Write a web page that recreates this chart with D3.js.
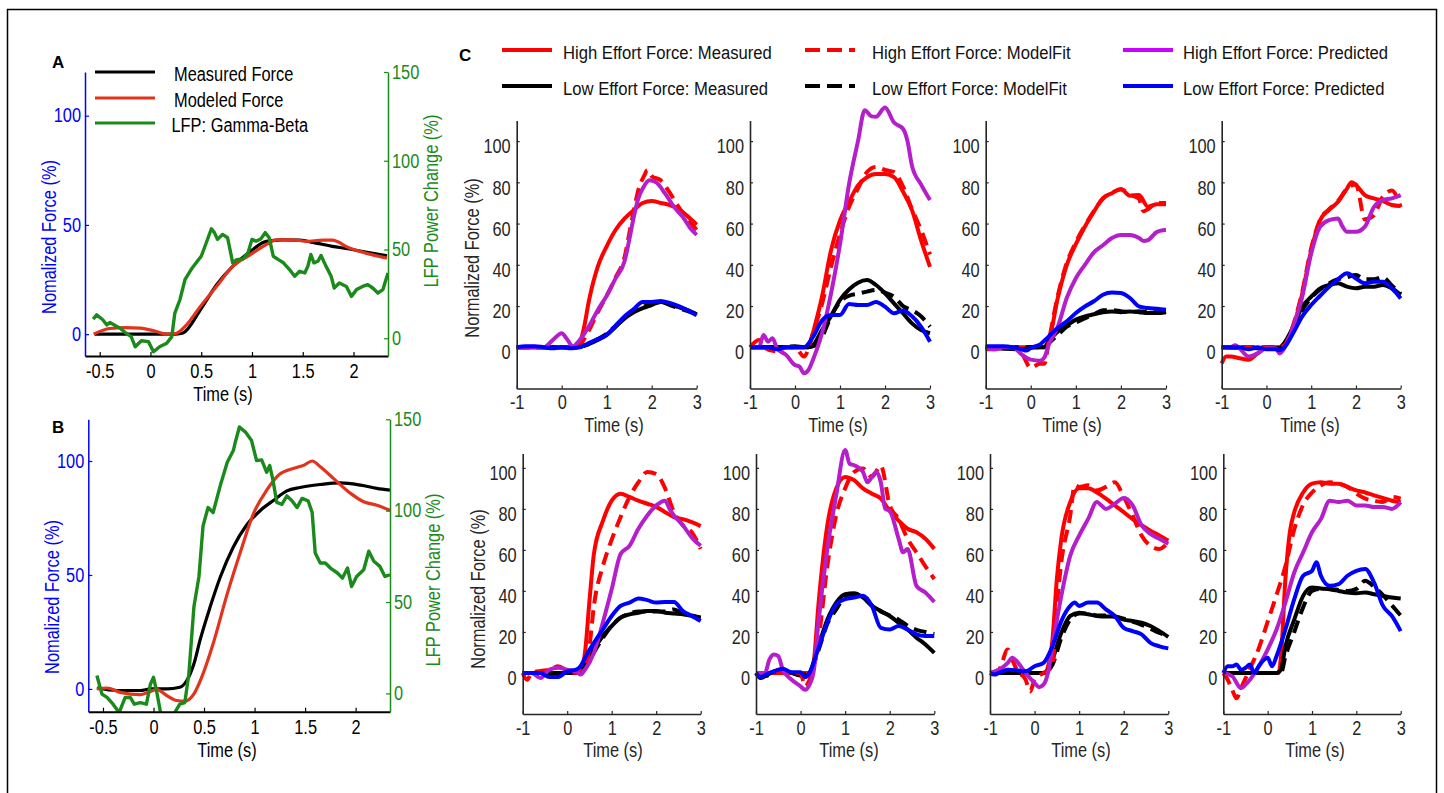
<!DOCTYPE html>
<html>
<head>
<meta charset="utf-8">
<script src="https://cdn.jsdelivr.net/npm/d3@7"></script>
<style>
  body { margin: 0; background: #fff; }
  svg { display: block; }
  text { font-family: "Liberation Sans", Arial, Helvetica, sans-serif; }
  .letter { font-weight: bold; }
</style>
</head>
<body>
<svg id="fig" width="1444" height="793"></svg>
<script>
// ---------------- Panels A and B: force (left axis) and LFP power (right axis) ----------------
const abTimeTicks = [-0.5, 0, 0.5, 1, 1.5, 2];
const abForceTicks = [0, 50, 100];
const abLfpTicks = [0, 50, 100, 150];
const abLegendLabels = ["Measured Force", "Modeled Force", "LFP: Gamma-Beta"];

const aMeasured = [[-0.55,0],[0,0],[0.25,0],[0.32,0.5],[0.49,11],[0.65,22.5],[0.81,31],[0.98,37.7],[1.14,42.5],[1.3,43.2],[1.47,43],[1.63,41.7],[1.79,40.2],[1.96,39],[2.12,37.6],[2.33,35.9]];
const aModeled = [[-0.56,0],[-0.4,2.6],[-0.25,3],[-0.1,2.8],[0.06,1.2],[0.16,0],[0.25,0.3],[0.35,4],[0.49,12.6],[0.65,21.8],[0.81,31],[0.98,36.3],[1.14,41],[1.24,43.2],[1.4,43.2],[1.53,42.5],[1.7,43],[1.79,43],[1.96,39.4],[2.12,37.1],[2.33,34.8]];
const aLfp = [[-0.565,10.8],[-0.53,13.2],[-0.47,10.4],[-0.43,7.5],[-0.4,8.9],[-0.3,5.7],[-0.24,2.8],[-0.19,0.9],[-0.15,-4.8],[-0.09,-1.4],[-0.02,-1.9],[0.03,-7.6],[0.09,-4.8],[0.16,-2.8],[0.21,0.9],[0.24,14.2],[0.29,21.7],[0.34,33],[0.4,38.7],[0.45,42.5],[0.5,46.2],[0.55,53.8],[0.6,61.7],[0.63,59.5],[0.66,55.7],[0.71,58.5],[0.76,56.6],[0.81,42.5],[0.85,44.3],[0.91,44.7],[0.96,48.1],[1.0,55.7],[1.04,54.7],[1.09,56.1],[1.13,59.5],[1.17,56.6],[1.21,46.2],[1.26,44.3],[1.31,42.5],[1.37,38.7],[1.42,34.9],[1.47,37.7],[1.52,36.8],[1.55,40.5],[1.58,47.2],[1.61,42.5],[1.65,43.4],[1.68,46.6],[1.73,40.5],[1.78,34.9],[1.81,28.3],[1.86,31.1],[1.93,29.2],[1.98,23.6],[2.03,27.4],[2.09,29.2],[2.14,30.2],[2.19,28.3],[2.24,25.5],[2.29,27.4],[2.34,36.8]];

const bMeasured = [[-0.56,0.4],[-0.36,-0.7],[-0.13,-0.7],[-0.03,0],[0.13,0],[0.26,0.7],[0.33,3.7],[0.4,11],[0.46,21.3],[0.56,35.9],[0.66,49],[0.79,62.3],[0.92,71.8],[1.06,78.4],[1.19,82.8],[1.32,86.9],[1.45,88.4],[1.65,89.7],[1.85,90.4],[2.05,89.4],[2.21,88],[2.34,87.2]];
const bModeled = [[-0.56,0],[-0.46,0.4],[-0.33,-1.5],[-0.13,-2.5],[-0.05,-1.5],[0.03,-0.2],[0.13,-2.9],[0.23,-5.1],[0.31,-5.4],[0.4,-2.2],[0.49,6.6],[0.59,19.8],[0.73,41.8],[0.86,60.1],[0.99,77],[1.12,87.2],[1.25,94.3],[1.39,96.8],[1.49,98.2],[1.57,100],[1.65,97.5],[1.78,92.4],[1.95,85.8],[2.08,82.1],[2.21,80.6],[2.34,78.4]];
const bLfp = [[-0.56,9.8],[-0.51,-0.4],[-0.46,-2.2],[-0.4,-5.9],[-0.34,-10.5],[-0.28,-2.2],[-0.23,-2.2],[-0.19,-5.9],[-0.13,-5],[-0.07,-5.9],[-0.03,5.2],[0,8.8],[0.03,1.5],[0.07,-10.5],[0.12,-20],[0.17,-20],[0.21,-10.5],[0.26,-5.9],[0.31,-5],[0.35,10.7],[0.4,47.4],[0.45,64],[0.49,91.6],[0.54,101.7],[0.59,99],[0.66,113.6],[0.73,126.5],[0.79,132.9],[0.81,137.6],[0.85,145.8],[0.91,143],[0.97,138.4],[1.02,127.4],[1.07,127.8],[1.12,121],[1.15,124.7],[1.18,117.3],[1.22,104.5],[1.27,103.5],[1.32,108.1],[1.37,105.4],[1.42,101.7],[1.47,106.7],[1.53,105.4],[1.57,99],[1.6,76.9],[1.65,71.4],[1.7,71.4],[1.75,68.6],[1.82,65.9],[1.87,63.1],[1.92,68.6],[1.96,58.5],[2.01,64],[2.08,67.7],[2.13,77.8],[2.18,72.3],[2.24,69.5],[2.29,64],[2.34,64.9]];

// ---------------- Panel C: eight force panels ----------------
const cTimeTicks = [-1, 0, 1, 2, 3];
const cForceTicks = [0, 20, 40, 60, 80, 100];
const cLegendLabels = [
  ["High Effort Force: Measured", "Low Effort Force: Measured"],
  ["High Effort Force: ModelFit", "Low Effort Force: ModelFit"],
  ["High Effort Force: Predicted", "Low Effort Force: Predicted"]
];

const c1HiMeas = [[-1,0],[0.3,0],[0.4,2],[0.5,10],[0.6,22],[0.8,39],[1.0,49],[1.2,57],[1.4,62.5],[1.6,66.5],[1.8,70],[2.0,71],[2.2,70],[2.4,69],[2.6,67],[2.8,63.5],[3.0,59.5]];
const c1HiFit = [[-1,0],[0.3,0],[0.4,1],[0.6,8],[0.8,17],[1.0,25],[1.2,34],[1.4,44],[1.5,55],[1.6,66],[1.7,76],[1.85,84],[1.9,86],[2.0,83],[2.2,81],[2.4,75],[2.6,68],[2.8,62],[3.0,57]];
const c1HiPred = [[-1,0],[-0.6,0],[-0.4,0],[-0.2,3.5],[0,6.8],[0.1,4.5],[0.25,0.5],[0.4,3.5],[0.6,10],[0.8,18],[1.0,25],[1.2,33.5],[1.4,42],[1.5,52],[1.6,63],[1.7,72],[1.8,77],[1.95,81],[2.1,80],[2.3,74.5],[2.5,68],[2.7,63],[2.85,58],[3.0,54.5]];
const c1LoMeas = [[-1,0],[0.3,0],[0.6,1.5],[0.8,3.5],[1.0,6],[1.2,10],[1.4,14],[1.6,17],[1.8,19],[2.0,20.5],[2.2,22],[2.4,21],[2.6,19.5],[2.8,18],[3.0,16]];
const c1LoFit = [[-1,0],[0.3,0],[0.6,1.5],[0.8,4],[1.0,6.5],[1.2,10.5],[1.4,14.5],[1.6,17.5],[1.8,19.5],[2.0,21],[2.2,22],[2.4,20.5],[2.6,19],[2.8,17.5],[3.0,16]];
const c1LoPred = [[-1,0],[-0.8,0.5],[-0.6,0.5],[-0.4,0],[-0.2,-0.5],[0,0],[0.2,-0.5],[0.4,0],[0.6,2],[0.8,4],[1.0,6],[1.2,10.5],[1.4,15],[1.6,18.5],[1.8,22],[2.0,22],[2.2,22.5],[2.4,21.5],[2.6,20],[2.8,18],[3.0,15.5]];

const c2HiMeas = [[-1,0],[0.3,0],[0.35,3],[0.4,7],[0.6,24.5],[0.8,47],[1.0,61.5],[1.2,70.5],[1.4,78.5],[1.6,82.5],[1.8,84],[2.0,84],[2.2,82.5],[2.4,75.5],[2.6,66.5],[2.8,52],[3.0,39]];
const c2HiFit = [[-1,0],[-0.8,3.5],[-0.7,0],[-0.4,-2],[-0.2,0],[0,0],[0.2,-4.5],[0.4,7],[0.6,21],[0.8,39],[1.0,55],[1.2,68],[1.4,77],[1.6,85],[1.8,87.5],[2.0,86],[2.2,85],[2.4,78],[2.6,67],[2.8,57],[3.0,45]];
const c2HiPred = [[-1,0],[-0.8,0],[-0.7,6],[-0.6,2.7],[-0.5,4.4],[-0.4,-0.5],[-0.2,-3.7],[0,-8.6],[0.1,-9.4],[0.2,-12.6],[0.3,-11],[0.4,-6],[0.6,6.8],[0.8,26],[1.0,50],[1.2,79],[1.4,100],[1.55,115],[1.7,112],[1.8,111.8],[2.0,116.3],[2.2,109],[2.4,106],[2.5,100],[2.6,88],[2.8,79],[3.0,71.4]];
const c2LoMeas = [[-1,0],[0.3,0],[0.4,1],[0.6,8.4],[0.8,15],[1.0,23],[1.2,28],[1.4,31.3],[1.6,32.6],[1.8,30.2],[2.0,26.2],[2.2,21.3],[2.4,16.5],[2.6,11.6],[2.8,8.4],[3.0,6.8]];
const c2LoFit = [[-1,0],[-0.4,0],[0,0.5],[0.2,0],[0.4,0.5],[0.6,5],[0.8,15],[1.0,22],[1.2,25],[1.4,26],[1.6,27],[1.8,27.8],[2.0,26.5],[2.2,24.5],[2.4,20],[2.6,18],[2.8,15],[3.0,10]];
const c2LoPred = [[-1,0],[-0.6,0],[-0.4,-1],[-0.2,0],[0,0],[0.2,0],[0.4,5],[0.6,13],[0.8,15.7],[1.0,15.7],[1.2,21],[1.4,20.5],[1.6,20.5],[1.8,22],[2.0,19.7],[2.2,16.5],[2.4,17.8],[2.6,15],[2.8,10],[3.0,2.7]];

const c3HiMeas = [[-1,0],[0.3,0],[0.4,3],[0.6,24],[0.8,40],[1.0,50],[1.2,58.5],[1.4,65.8],[1.6,72.3],[1.8,74.7],[2.0,76.8],[2.2,73.5],[2.4,73.9],[2.6,68.2],[2.8,69.4],[3.0,69.4]];
const c3HiFit = [[-1,-1],[-0.8,-1],[-0.6,0],[-0.4,0],[-0.2,-3],[0,-10],[0.2,-8],[0.3,-8],[0.4,3],[0.6,25],[0.8,41],[1.0,51],[1.2,59],[1.4,66],[1.6,72],[1.8,75],[2.0,76.5],[2.2,74],[2.4,72],[2.5,66],[2.6,67],[2.8,70],[3.0,70]];
const c3HiPred = [[-1,0],[-0.8,-1],[-0.6,0],[-0.4,0],[-0.2,-3.5],[0,-6],[0.2,-6.5],[0.3,-5],[0.4,1.3],[0.6,10],[0.8,24],[1.0,33.5],[1.2,40],[1.4,46],[1.6,49.5],[1.8,53],[2.0,54.5],[2.2,54.5],[2.4,53],[2.5,51.6],[2.6,52],[2.8,56],[3.0,57]];
const c3LoMeas = [[-1,0],[-0.2,-1],[0,0],[0.3,0],[0.4,3],[0.6,7.7],[0.8,10.6],[1.0,13.4],[1.2,15],[1.4,16],[1.6,17],[1.8,17.4],[2.0,17],[2.2,17.4],[2.4,17],[2.6,16.6],[2.8,16.6],[3.0,17]];
const c3LoFit = [[-1,0],[0.3,0],[0.4,2],[0.6,6],[0.8,10],[1.0,12],[1.2,14],[1.4,16],[1.6,18],[1.8,18],[2.0,17.5],[2.2,17],[2.4,17.5],[2.6,17],[2.8,17],[3.0,17.5]];
const c3LoPred = [[-1,0.5],[-0.8,0.5],[-0.6,0.5],[-0.4,0],[-0.2,-1],[-0.1,-1.6],[0,-0.3],[0.2,1.3],[0.4,5.3],[0.6,9.4],[0.8,12.6],[1.0,16.6],[1.2,19.8],[1.4,22.3],[1.6,25.5],[1.8,26.6],[2.0,26.3],[2.2,23.9],[2.4,19.8],[2.6,19],[2.8,18.7],[3.0,18.2]];

const c4HiMeas = [[-1,-7.8],[-0.9,-4.5],[-0.8,-4.5],[-0.6,-5.3],[-0.4,-6],[-0.2,-3],[0,0],[0.2,0],[0.4,1],[0.6,10],[0.8,26],[1.0,47],[1.2,61.7],[1.4,66.6],[1.6,70.6],[1.8,77],[1.9,80],[2.0,78.7],[2.2,73.8],[2.4,72.2],[2.6,71],[2.8,69],[3.0,68.5]];
const c4HiFit = [[-1,0],[0.3,0],[0.4,1],[0.6,11],[0.8,27],[1.0,48],[1.2,62],[1.4,67],[1.6,71],[1.8,77],[2.0,79],[2.2,62],[2.4,64],[2.6,73],[2.8,76],[3.0,68]];
const c4HiPred = [[-1,0],[-0.8,0],[-0.7,1],[-0.6,-0.5],[-0.4,-4.5],[-0.2,-3],[0,-0.5],[0.2,-0.5],[0.3,-3],[0.4,-0.5],[0.6,10],[0.8,24.5],[1.0,45.5],[1.2,58.5],[1.4,61.7],[1.6,62.5],[1.7,58.5],[1.8,56],[2.0,56],[2.2,58.5],[2.4,68],[2.6,71.4],[2.8,72.2],[3.0,73.8]];
const c4LoMeas = [[-1,0],[0,-0.5],[0.3,-0.5],[0.4,2],[0.6,10],[0.8,19.7],[1.0,24.5],[1.2,28.6],[1.4,30.2],[1.6,31],[1.8,29.4],[2.0,28.6],[2.2,29.4],[2.4,29.4],[2.6,30.2],[2.8,28.6],[3.0,25.4]];
const c4LoFit = [[-1,0],[0.3,0],[0.4,2],[0.6,9],[0.8,18],[1.0,24],[1.2,28],[1.4,31],[1.6,33],[1.8,34],[2.0,35],[2.2,33],[2.4,33],[2.6,34],[2.8,30],[3.0,26]];
const c4LoPred = [[-1,0],[-0.6,0],[-0.4,-1],[-0.2,0],[0,-1],[0.2,-1],[0.3,-1.5],[0.4,0],[0.6,7],[0.8,15],[1.0,20.5],[1.2,25],[1.4,29.4],[1.6,33],[1.8,35.9],[2.0,33.4],[2.2,31],[2.4,31.8],[2.6,31.8],[2.8,28.6],[3.0,23.7]];

const c5HiMeas = [[-1,0],[0.3,0],[0.4,10],[0.5,35],[0.6,58],[0.8,74],[1.0,84],[1.2,87.4],[1.4,85.8],[1.6,84],[1.8,82.5],[2.0,81],[2.2,78.4],[2.4,76],[2.6,75],[2.8,73.5],[3.0,71.6]];
const c5HiFit = [[-1,0],[-0.9,-3.3],[-0.8,0],[-0.6,1],[-0.4,1.6],[-0.2,3.3],[0,1],[0.2,0],[0.4,1.6],[0.5,13],[0.6,32.7],[0.8,52],[1.0,65],[1.2,76],[1.4,85.8],[1.6,93],[1.8,98],[2.0,97],[2.2,90],[2.4,78.4],[2.6,72],[2.8,68.6],[3.0,60.5]];
const c5HiPred = [[-1,0],[-0.8,0],[-0.6,-2.5],[-0.4,1.6],[-0.2,2.5],[0,1.6],[0.2,0.8],[0.3,-0.8],[0.4,1.6],[0.6,9.8],[0.8,24.5],[1.0,40.8],[1.2,58],[1.4,62],[1.6,70.3],[1.8,76.8],[2.0,81.7],[2.2,84],[2.3,80],[2.4,76.8],[2.6,72],[2.8,66],[3.0,62]];
const c5LoMeas = [[-1,0],[0.3,0],[0.4,3.3],[0.6,11.4],[0.8,18],[1.0,22.9],[1.2,27],[1.4,28.6],[1.6,29.4],[1.8,30.2],[2.0,30.2],[2.2,29.4],[2.4,29],[2.6,28.6],[2.8,27.8],[3.0,27]];
const c5LoFit = [[-1,0],[0.3,0],[0.4,2],[0.6,10],[0.8,17],[1.0,23],[1.2,27],[1.4,29],[1.6,30],[1.8,30],[2.0,30],[2.2,30],[2.4,31],[2.6,29],[2.8,28],[3.0,27]];
const c5LoPred = [[-1,0],[-0.6,0],[-0.4,-2],[-0.2,-2],[0,0.8],[0.2,1.6],[0.3,3.3],[0.4,7.4],[0.6,14.7],[0.8,21.2],[1.0,27.8],[1.2,32.7],[1.4,34.3],[1.6,36.3],[1.8,35.5],[2.0,34.3],[2.2,34.6],[2.4,34.6],[2.6,30.2],[2.8,27.8],[3.0,25.3]];

const c6HiMeas = [[-1,0],[0.25,0],[0.3,6],[0.4,33],[0.5,55],[0.6,72],[0.8,90],[1.0,95.6],[1.2,94],[1.4,90],[1.6,87.4],[1.8,85],[2.0,79],[2.2,74.3],[2.4,70.3],[2.6,68.6],[2.8,65.4],[3.0,60.5]];
const c6HiFit = [[-1,0],[0,0],[0.1,-6.5],[0.2,-3.3],[0.4,16],[0.6,52],[0.8,77],[1.0,90],[1.2,98],[1.4,99.7],[1.6,95.6],[1.8,101],[2.0,81.7],[2.2,75],[2.4,65.4],[2.6,58.8],[2.8,52],[3.0,45.8]];
const c6HiPred = [[-1,0],[-0.8,0],[-0.7,6.5],[-0.6,9],[-0.5,8.2],[-0.4,1.6],[-0.2,-3.3],[0,-6.5],[0.1,-8.2],[0.2,-5.7],[0.3,1.6],[0.4,24.5],[0.6,60.5],[0.8,86.6],[1.0,108.7],[1.1,102],[1.2,101.3],[1.4,98],[1.5,93],[1.6,95.6],[1.7,98],[1.8,93],[1.9,80],[2.0,79],[2.2,65.4],[2.3,58.8],[2.4,60.5],[2.6,42.5],[2.8,39.2],[3.0,34.6]];
const c6LoMeas = [[-1,0],[-0.9,-2.5],[-0.8,-1.6],[-0.6,0.8],[-0.4,1.6],[-0.2,0],[0,-1.3],[0.1,-2],[0.2,0],[0.4,13],[0.6,26],[0.8,34.3],[1.0,38.4],[1.2,38.9],[1.4,36.8],[1.6,32.7],[1.8,30.2],[2.0,27.8],[2.2,24.5],[2.4,21.2],[2.6,17.2],[2.8,13.9],[3.0,9.8]];
const c6LoFit = [[-1,0],[-0.8,-1.5],[-0.4,1.5],[0,-1],[0.2,0],[0.4,11],[0.6,24],[0.8,31],[1.0,37],[1.2,38],[1.4,37],[1.6,33],[1.8,30],[2.0,28],[2.2,26],[2.4,23],[2.6,21],[2.8,20],[3.0,19]];
const c6LoPred = [[-1,0],[-0.9,-2],[-0.8,-1],[-0.6,0.8],[-0.4,2],[-0.2,0.3],[0,0.3],[0.1,-2],[0.2,0],[0.4,12],[0.6,24.5],[0.8,33.5],[1.0,36],[1.2,36.8],[1.4,37.6],[1.6,32.7],[1.8,22],[2.0,21.2],[2.2,22.9],[2.4,21.2],[2.6,18.8],[2.8,18],[3.0,18]];

const c7HiMeas = [[-1,0],[0.25,0],[0.3,3],[0.4,16],[0.5,45.8],[0.6,65.4],[0.8,83.3],[1.0,90],[1.2,90],[1.4,88],[1.6,85],[1.8,81.7],[2.0,78.4],[2.2,75],[2.4,72],[2.6,69.4],[2.8,67],[3.0,64.5]];
const c7HiFit = [[-1,0],[-0.8,1.6],[-0.6,11.4],[-0.5,6.5],[-0.4,1.6],[-0.2,-3.3],[-0.1,-9],[0,-3.3],[0.2,0],[0.4,3.3],[0.5,32.7],[0.6,54],[0.8,76.8],[0.9,91.5],[1.0,90.7],[1.2,91.5],[1.4,89],[1.6,90.7],[1.8,93],[2.0,85.8],[2.2,76.8],[2.4,67],[2.6,62],[2.8,60.5],[3.0,63.7]];
const c7HiPred = [[-1,0],[-0.8,1.6],[-0.6,4.9],[-0.5,7.4],[-0.4,5.7],[-0.2,0],[0,-4.9],[0.1,-6.9],[0.2,-5.7],[0.3,0],[0.4,13],[0.6,37.6],[0.8,57.2],[1.0,67],[1.2,75],[1.4,83.3],[1.5,81.7],[1.6,80],[1.8,82.5],[2.0,85.3],[2.2,81.7],[2.4,72],[2.6,67.8],[2.8,65.4],[3.0,63]];
const c7LoMeas = [[-1,0],[0.2,0],[0.3,1.6],[0.4,6.5],[0.6,19.6],[0.8,27.8],[1.0,29.4],[1.2,28.6],[1.4,27.8],[1.6,27.5],[1.8,27.5],[2.0,26],[2.2,25.3],[2.4,24.5],[2.6,22.9],[2.8,20.4],[3.0,17.6]];
const c7LoFit = [[-1,0],[0.2,0],[0.4,4],[0.6,17],[0.8,26],[1.0,29],[1.2,29],[1.4,28],[1.6,28],[1.8,27.5],[2.0,26.5],[2.2,25],[2.4,23.5],[2.6,21.5],[2.8,19.5],[3.0,18]];
const c7LoPred = [[-1,0],[-0.9,-0.8],[-0.8,0],[-0.6,1.6],[-0.4,1.3],[-0.2,0.8],[0,3.3],[0.2,4.9],[0.4,13],[0.6,25.3],[0.8,32.7],[0.9,34.3],[1.0,32.7],[1.2,34.3],[1.4,34.3],[1.6,31],[1.8,27.8],[2.0,22],[2.2,20.4],[2.4,18.8],[2.6,14.7],[2.8,13],[3.0,12]];

const c8HiMeas = [[-1,0],[0.25,0],[0.3,8],[0.4,45.8],[0.5,68.6],[0.6,78.4],[0.8,88],[1.0,92.3],[1.2,93],[1.4,92.3],[1.6,92.3],[1.8,90.7],[2.0,89],[2.2,88],[2.4,86.6],[2.6,85.3],[2.8,84],[3.0,83.3]];
const c8HiFit = [[-1,0],[-0.9,-3.3],[-0.8,-8.2],[-0.7,-12.3],[-0.6,-7.4],[-0.4,2],[-0.2,12],[0,25],[0.2,38],[0.4,52],[0.6,70],[0.8,82],[1.0,88],[1.2,91.5],[1.4,93],[1.6,92.3],[1.8,90.7],[2.0,87.4],[2.2,85],[2.4,84],[2.6,83.3],[2.8,85.8],[3.0,85]];
const c8HiPred = [[-1,0],[-0.8,-1.6],[-0.6,-7.4],[-0.5,-5.7],[-0.4,-3.3],[-0.2,3.3],[0,11.4],[0.2,21.2],[0.4,34.3],[0.6,49],[0.8,58.8],[1.0,68.6],[1.2,75],[1.4,84],[1.6,83.3],[1.8,84],[2.0,81.7],[2.2,81.7],[2.4,80.9],[2.6,80.9],[2.8,80],[3.0,83.3]];
const c8LoMeas = [[-1,0],[0.2,0],[0.3,1.6],[0.4,13],[0.6,26],[0.8,37.6],[1.0,41.7],[1.2,41.2],[1.4,40.8],[1.6,40],[1.8,39.2],[2.0,38.9],[2.2,39.2],[2.4,38.4],[2.6,37.6],[2.8,36.8],[3.0,36.3]];
const c8LoFit = [[-1,0],[0.3,0],[0.4,8],[0.6,20],[0.8,32],[1.0,40],[1.2,41],[1.4,41],[1.6,40.5],[1.8,40],[2.0,41],[2.2,45],[2.4,42],[2.6,38],[2.8,33],[3.0,28]];
const c8LoPred = [[-1,0],[-0.9,3.3],[-0.8,3.3],[-0.7,4.1],[-0.6,1.6],[-0.5,2.5],[-0.4,4.1],[-0.3,0],[-0.2,3.3],[0,7.4],[0.1,3.3],[0.2,8.2],[0.4,21.2],[0.6,36],[0.8,47.4],[1.0,49.8],[1.1,54],[1.2,47.4],[1.4,42.5],[1.6,43.3],[1.8,47.4],[2.0,49.8],[2.2,50.7],[2.4,44],[2.6,32.7],[2.8,27.8],[3.0,20.4]];

// ---------------- styles ----------------
const RED = "#ff0000", PURPLE = "#b41ecb", BLUE = "#0000ff", INK = "#262626";
const AB_RED = "#e2341c", AB_GREEN = "#1a8a1a", AB_BLUE = "#0000ff";
const DASH = "13,7";

const svg = d3.select("#fig");
const defs = svg.append("defs");

// outer frame
svg.append("rect").attr("x", 7.5).attr("y", 9.5).attr("width", 1429).attr("height", 800)
  .attr("fill", "none").attr("stroke", "#000").attr("stroke-width", 1.5);

function styleAxis(g, lineColor, textColor, lineWidth, fontSize) {
  g.attr("font-family", null).attr("font-size", null);
  g.select(".domain").attr("stroke", lineColor).attr("stroke-width", lineWidth);
  g.selectAll(".tick line").attr("stroke", lineColor).attr("stroke-width", 1.2);
  g.selectAll(".tick text").attr("fill", textColor).style("font-size", fontSize + "px");
}

// ---------------- panels A & B ----------------
function dualPanel(cfg) {
  const x = d3.scaleLinear().domain([-0.645, 2.34]).range([cfg.left, cfg.right]);
  const yL = d3.scaleLinear().domain(cfg.forceDomain).range([cfg.bottom, cfg.top]);
  const yR = d3.scaleLinear().domain([-10, 150]).range([cfg.bottom, cfg.top]);
  const g = svg.append("g");

  const clipId = "clip" + cfg.letter;
  defs.append("clipPath").attr("id", clipId).append("rect")
    .attr("x", cfg.left).attr("y", cfg.top - 20).attr("width", cfg.right - cfg.left).attr("height", cfg.bottom - cfg.top + 20);

  const forceLine = d3.line().x(d => x(d[0])).y(d => yL(d[1])).curve(d3.curveMonotoneX);
  const lfpLine = d3.line().x(d => x(d[0])).y(d => yR(d[1]));

  g.append("path").datum(cfg.measured).attr("d", forceLine)
    .attr("fill", "none").attr("stroke", "#000").attr("stroke-width", 3.2);
  g.append("path").datum(cfg.modeled).attr("d", forceLine)
    .attr("fill", "none").attr("stroke", AB_RED).attr("stroke-width", 3.2);
  g.append("path").datum(cfg.lfp).attr("d", lfpLine).attr("clip-path", `url(#${clipId})`)
    .attr("fill", "none").attr("stroke", AB_GREEN).attr("stroke-width", 3.4).attr("stroke-linejoin", "round");

  g.append("g").attr("transform", `translate(0,${cfg.bottom})`)
    .call(d3.axisBottom(x).tickValues(abTimeTicks).tickFormat(d => String(d))
      .tickSizeInner(-4).tickSizeOuter(0).tickPadding(8))
    .call(a => styleAxis(a, "#000", "#000", 2, 19.5));
  g.append("g").attr("transform", `translate(${cfg.left},0)`)
    .call(d3.axisLeft(yL).tickValues(abForceTicks).tickSizeInner(-4).tickSizeOuter(0).tickPadding(4))
    .call(a => styleAxis(a, AB_BLUE, AB_BLUE, 1.5, 19.5));
  g.append("g").attr("transform", `translate(${cfg.right},0)`)
    .call(d3.axisRight(yR).tickValues(abLfpTicks).tickSizeInner(-4).tickSizeOuter(0).tickPadding(4))
    .call(a => styleAxis(a, AB_GREEN, AB_GREEN, 1.5, 19.5));

  g.append("text").attr("x", cfg.timeX).attr("y", cfg.bottom + 45).attr("text-anchor", "middle")
    .style("font-size", "19.5px").attr("fill", "#000").text("Time (s)");
  g.append("text").attr("transform", `translate(${cfg.left - 36},${cfg.leftLabelY}) rotate(-90)`)
    .attr("text-anchor", "middle").attr("dy", "0.35em").style("font-size", "19.5px")
    .attr("fill", AB_BLUE).text("Nomalized Force (%)");
  g.append("text").attr("transform", `translate(${cfg.right + 43},${cfg.rightLabelY}) rotate(-90)`)
    .attr("text-anchor", "middle").attr("dy", "0.35em").style("font-size", "19.5px")
    .attr("fill", AB_GREEN).text("LFP Power Change (%)");
  g.append("text").attr("class", "letter").attr("x", 52).attr("y", cfg.letterY).attr("dy", "0.35em")
    .style("font-size", "17px").text(cfg.letter);
}

dualPanel({ letter: "A", left: 85, right: 388, top: 72, bottom: 356, forceDomain: [-10, 120],
  measured: aMeasured, modeled: aModeled, lfp: aLfp,
  timeX: 223, leftLabelY: 237, rightLabelY: 201, letterY: 62 });
dualPanel({ letter: "B", left: 88.3, right: 390, top: 419.3, bottom: 711.7, forceDomain: [-10, 118.3],
  measured: bMeasured, modeled: bModeled, lfp: bLfp,
  timeX: 227, leftLabelY: 597, rightLabelY: 580, letterY: 427 });

// legend for A
const abLegendColors = ["#000", AB_RED, AB_GREEN];
abLegendLabels.forEach((lab, i) => {
  const y = [72, 98, 123][i];
  svg.append("line").attr("x1", 95).attr("x2", 155).attr("y1", y).attr("y2", y)
    .attr("stroke", abLegendColors[i]).attr("stroke-width", 3);
  svg.append("text").attr("x", i === 2 ? 171.5 : 174).attr("y", y + 2).attr("dy", "0.35em")
    .style("font-size", "19.5px").attr("fill", "#000").text(lab);
});

// ---------------- panel C ----------------
const cSeriesStyle = {
  hiMeas: { color: RED, dash: null },
  loMeas: { color: "#000", dash: null },
  loFit:  { color: "#000", dash: DASH },
  hiFit:  { color: RED, dash: DASH },
  hiPred: { color: PURPLE, dash: null },
  loPred: { color: BLUE, dash: null }
};

const cPanels = [
  { hiMeas: c1HiMeas, hiFit: c1HiFit, hiPred: c1HiPred, loMeas: c1LoMeas, loFit: c1LoFit, loPred: c1LoPred },
  { hiMeas: c2HiMeas, hiFit: c2HiFit, hiPred: c2HiPred, loMeas: c2LoMeas, loFit: c2LoFit, loPred: c2LoPred },
  { hiMeas: c3HiMeas, hiFit: c3HiFit, hiPred: c3HiPred, loMeas: c3LoMeas, loFit: c3LoFit, loPred: c3LoPred },
  { hiMeas: c4HiMeas, hiFit: c4HiFit, hiPred: c4HiPred, loMeas: c4LoMeas, loFit: c4LoFit, loPred: c4LoPred },
  { hiMeas: c5HiMeas, hiFit: c5HiFit, hiPred: c5HiPred, loMeas: c5LoMeas, loFit: c5LoFit, loPred: c5LoPred },
  { hiMeas: c6HiMeas, hiFit: c6HiFit, hiPred: c6HiPred, loMeas: c6LoMeas, loFit: c6LoFit, loPred: c6LoPred },
  { hiMeas: c7HiMeas, hiFit: c7HiFit, hiPred: c7HiPred, loMeas: c7LoMeas, loFit: c7LoFit, loPred: c7LoPred },
  { hiMeas: c8HiMeas, hiFit: c8HiFit, hiPred: c8HiPred, loMeas: c8LoMeas, loFit: c8LoFit, loPred: c8LoPred }
];

// layout of the 4x2 grid
const cCols = [[516.7, 696.7], [750, 930], [985.7, 1166], [1221.7, 1400.7],
               [522.7, 700.7], [756, 934.3], [990, 1168.3], [1223.3, 1400.7]];
const cRows = [{ bottom: 388.5, top: 120.5, domain: [-20, 110] },
               { bottom: 714, top: 453.5, domain: [-20, 107] }];
const cTimeLabelX = [614, 838, 1072, 1310, 613, 849, 1081, 1315];

cPanels.forEach((p, i) => {
  const [left, right] = cCols[i];
  const row = cRows[i < 4 ? 0 : 1];
  const x = d3.scaleLinear().domain([-1, 3]).range([left, right]);
  const y = d3.scaleLinear().domain(row.domain).range([row.bottom, row.top]);
  const g = svg.append("g");
  const line = d3.line().x(d => x(d[0])).y(d => y(d[1])).curve(d3.curveMonotoneX);

  Object.keys(cSeriesStyle).forEach(key => {
    const st = cSeriesStyle[key];
    g.append("path").datum(p[key]).attr("d", line)
      .attr("fill", "none").attr("stroke", st.color).attr("stroke-width", 4)
      .attr("stroke-linejoin", "round")
      .attr("stroke-dasharray", st.dash);
  });

  g.append("g").attr("transform", `translate(0,${row.bottom})`)
    .call(d3.axisBottom(x).tickValues(cTimeTicks).tickFormat(d => String(d))
      .tickSizeInner(-3).tickSizeOuter(0).tickPadding(7))
    .call(a => styleAxis(a, INK, INK, 1.6, 19.5));
  g.append("g").attr("transform", `translate(${left},0)`)
    .call(d3.axisLeft(y).tickValues(cForceTicks).tickSizeInner(-3).tickSizeOuter(0).tickPadding(6))
    .call(a => styleAxis(a, INK, INK, 1.6, 19.5))
    .call(a => a.selectAll(".tick text").attr("dy", "0.6em"));

  g.append("text").attr("x", cTimeLabelX[i]).attr("y", row.bottom + 43).attr("text-anchor", "middle")
    .style("font-size", "19.5px").attr("fill", INK).text("Time (s)");

  if (i === 0 || i === 4) {
    const cy = i === 0 ? 258 : 589;
    const cx = i === 0 ? 472 : 478;
    g.append("text").attr("transform", `translate(${cx},${cy}) rotate(-90)`)
      .attr("text-anchor", "middle").attr("dy", "0.35em").style("font-size", "19.5px")
      .attr("fill", INK).text("Normalized Force (%)");
  }
});

// legend for C
svg.append("text").attr("class", "letter").attr("x", 459).attr("y", 55).attr("dy", "0.35em")
  .style("font-size", "17px").text("C");
const cLegendCols = [{ x1: 502, x2: 552, tx: 563, colors: [RED, "#000"], dash: null },
                     { x1: 805, x2: 855, tx: 872, colors: [RED, "#000"], dash: "15,7" },
                     { x1: 1123, x2: 1173, tx: 1183, colors: ["#cc00ff", BLUE], dash: null }];
cLegendCols.forEach((c, ci) => {
  [0, 1].forEach(r => {
    const ly = r === 0 ? 50 : 86;
    svg.append("line").attr("x1", c.x1).attr("x2", c.x2).attr("y1", ly).attr("y2", ly)
      .attr("stroke", c.colors[r]).attr("stroke-width", 4).attr("stroke-dasharray", c.dash);
    svg.append("text").attr("class", "legc").attr("x", c.tx).attr("y", ly + 3).attr("dy", "0.35em")
      .style("font-size", "18px").attr("fill", "#111").text(cLegendLabels[ci][r]);
  });
});

// the figure's lettering is set in a condensed face: squeeze each label horizontally
svg.selectAll("text:not(.letter)").each(function () {
  const k = this.classList.contains("legc") ? 0.925 : 0.84;
  const w = this.getComputedTextLength();
  if (w > 0) {
    this.setAttribute("textLength", (w * k).toFixed(1));
    this.setAttribute("lengthAdjust", "spacingAndGlyphs");
  }
});
</script>
</body>
</html>
